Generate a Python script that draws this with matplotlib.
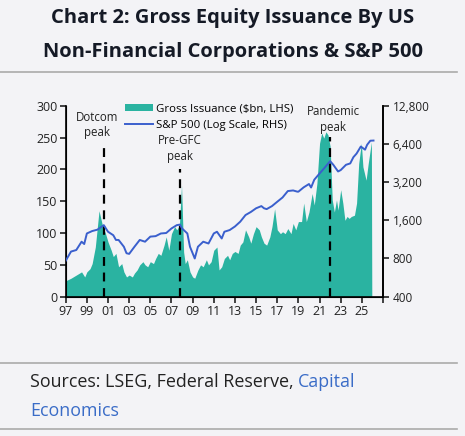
import numpy as np
import matplotlib.pyplot as plt
from matplotlib.lines import Line2D
from matplotlib.patches import Patch

# Gross equity issuance ($bn, LHS)
iss_year = [1997.0, 1997.5, 1998.0, 1998.5, 1998.8, 1999.0, 1999.3, 1999.5, 1999.8, 2000.15,
            2000.5, 2000.75, 2001.0, 2001.3, 2001.5, 2001.75, 2002.0, 2002.3, 2002.5, 2002.75,
            2003.0, 2003.3, 2003.5, 2003.75, 2004.0, 2004.3, 2004.5, 2004.75, 2005.0, 2005.3,
            2005.5, 2005.75, 2006.0, 2006.3, 2006.5, 2006.75, 2007.0, 2007.3, 2007.5, 2007.75,
            2007.95, 2008.15, 2008.3, 2008.5, 2008.75, 2009.0, 2009.2, 2009.5, 2009.75, 2010.0,
            2010.3, 2010.5, 2010.75, 2011.0, 2011.3, 2011.5, 2011.75, 2012.0, 2012.3, 2012.5,
            2012.75, 2013.0, 2013.3, 2013.5, 2013.75, 2014.0, 2014.3, 2014.5, 2014.75, 2015.0,
            2015.3, 2015.5, 2015.75, 2016.0, 2016.3, 2016.5, 2016.75, 2017.0, 2017.3, 2017.5,
            2017.75, 2018.0, 2018.3, 2018.5, 2018.75, 2019.0, 2019.3, 2019.5, 2019.75, 2020.0,
            2020.3, 2020.5, 2020.75, 2021.0, 2021.2, 2021.4, 2021.6, 2021.8, 2022.0, 2022.2,
            2022.4, 2022.6, 2022.75, 2023.0, 2023.2, 2023.4, 2023.6, 2023.8, 2024.0, 2024.3,
            2024.5, 2024.7, 2024.95, 2025.1, 2025.4, 2025.6, 2025.9, 2025.94]
iss_value = [25, 29, 34, 39, 31, 39, 44, 52, 78, 135,
             110, 100, 86, 73, 63, 68, 47, 52, 39, 31,
             34, 31, 37, 42, 50, 55, 50, 47, 55, 52,
             60, 68, 65, 81, 94, 73, 99, 110, 105, 112,
             175, 70, 52, 58, 39, 31, 29, 42, 50, 47,
             58, 50, 55, 73, 78, 42, 47, 60, 65, 58,
             68, 71, 68, 81, 86, 105, 94, 84, 99, 110,
             105, 94, 84, 81, 94, 110, 138, 105, 99, 102,
             99, 107, 99, 115, 105, 118, 118, 147, 118, 133,
             162, 144, 178, 241, 257, 249, 259, 254, 236, 152,
             133, 152, 136, 168, 147, 120, 126, 123, 126, 128,
             147, 209, 241, 204, 183, 209, 243, 0]

# S&P 500 (log scale, RHS)
spx_year = [1997.0, 1997.5, 1998.0, 1998.5, 1998.75, 1999.0, 1999.5, 2000.0, 2000.6, 2001.0,
            2001.5, 2001.75, 2002.0, 2002.5, 2002.75, 2003.0, 2003.5, 2004.0, 2004.5, 2005.0,
            2005.5, 2006.0, 2006.5, 2007.0, 2007.5, 2007.8, 2008.0, 2008.5, 2008.75, 2009.0,
            2009.2, 2009.5, 2010.0, 2010.5, 2011.0, 2011.3, 2011.75, 2012.0, 2012.5, 2013.0,
            2013.5, 2014.0, 2014.5, 2015.0, 2015.5, 2015.75, 2016.0, 2016.5, 2017.0, 2017.5,
            2018.0, 2018.5, 2018.9, 2019.0, 2019.5, 2020.0, 2020.2, 2020.5, 2021.0, 2021.5,
            2022.0, 2022.3, 2022.75, 2023.0, 2023.5, 2023.9, 2024.2, 2024.5, 2024.9, 2025.3,
            2025.5, 2025.8, 2026.1]
spx_value = [768, 907, 933, 1085, 1040, 1260, 1316, 1350, 1465, 1300,
             1220, 1120, 1120, 990, 880, 870, 990, 1120, 1085, 1190,
             1200, 1260, 1270, 1380, 1465, 1480, 1380, 1260, 990, 880,
             800, 990, 1085, 1050, 1260, 1300, 1150, 1300, 1340, 1430,
             1560, 1760, 1860, 1990, 2070, 1990, 1960, 2070, 2240, 2420,
             2720, 2750, 2690, 2690, 2910, 3090, 2900, 3340, 3740, 4170,
             4680, 4380, 3880, 3980, 4380, 4490, 5030, 5370, 6100, 5760,
             6300, 6780, 6800]

# Peak markers: (year, top of dashed line on LHS scale, label)
peak_year = [2000.6, 2007.82, 2022.0]
peak_top = [243, 200, 251]
peak_label = ["Dotcom\npeak", "Pre-GFC\npeak", "Pandemic\npeak"]
peak_label_x = [2000.0, 2007.8, 2022.3]
peak_label_y = [292, 255, 301]

x_ticks = list(range(1997, 2028, 2))
x_labels = [f"{y % 100:02d}" if y < 2027 else "" for y in x_ticks]
lhs_ticks = [0, 50, 100, 150, 200, 250, 300]
rhs_ticks = [400, 800, 1600, 3200, 6400, 12800]

teal = "#2ab3a1"
blue = "#3a5fcd"
bg = "#f3f3f6"

plt.rcParams["font.family"] = ["Open Sans", "DejaVu Sans"]

fig = plt.figure(figsize=(4.65, 4.36), dpi=100, facecolor=bg)
ax = fig.add_axes([0.1413, 0.3195, 0.6824, 0.4381])
ax.set_facecolor("none")

ax.fill_between(iss_year, iss_value, 0, color=teal, lw=0, zorder=1)
ax.vlines(peak_year, 0, peak_top, colors="black", linestyles=(0, (4, 3)), lw=1.6, zorder=3)
for px, py, lab in zip(peak_label_x, peak_label_y, peak_label):
    ax.text(px, py, lab, ha="center", va="top", fontsize=8.3, linespacing=1.25, color="#222222")

ax.set_xlim(1997, 2027)
ax.set_ylim(0, 300)
ax.set_xticks(x_ticks)
ax.set_xticklabels(x_labels)
ax.set_yticks(lhs_ticks)
ax.spines["top"].set_visible(False)
for s in ["left", "bottom", "right"]:
    ax.spines[s].set_linewidth(1.2)
ax.tick_params(direction="out", length=4, width=1.2, labelsize=9, colors="#222222", pad=2)

ax2 = ax.twinx()
ax2.set_yscale("log")
ax2.plot(spx_year, spx_value, color=blue, lw=1.4, zorder=4)
ax2.set_ylim(400, 12800)
ax2.set_yticks(rhs_ticks)
ax2.set_yticklabels([f"{v:,}" for v in rhs_ticks])
ax2.minorticks_off()
ax2.spines["top"].set_visible(False)
ax2.spines["right"].set_linewidth(1.2)
ax2.tick_params(direction="out", length=4, width=1.2, labelsize=8.5, colors="#222222", pad=3)

handles = [Patch(facecolor=teal, edgecolor="none"), Line2D([], [], color=blue, lw=1.4)]
ax.legend(handles, ["Gross Issuance ($bn, LHS)", "S&P 500 (Log Scale, RHS)"],
          loc="upper left", bbox_to_anchor=(0.17, 1.04), frameon=False, fontsize=8.2,
          handlelength=2.4, handleheight=0.5, handletextpad=0.3, labelspacing=0.45,
          borderpad=0)

# Title, rules and source note
fig.text(0.5, 1 - 18 / 436, "Chart 2: Gross Equity Issuance By US", ha="center", va="center",
         fontsize=14.5, fontweight="bold", color="#151a26")
fig.text(0.5, 1 - 52 / 436, "Non-Financial Corporations & S&P 500", ha="center", va="center",
         fontsize=14.5, fontweight="bold", color="#151a26")
for yy in [72, 363, 429]:
    fig.add_artist(Line2D([0, 457 / 465], [1 - yy / 436] * 2, color="#aaaaaa", lw=1.2))
t1 = fig.text(30 / 465, 1 - 382 / 436, "Sources: LSEG, Federal Reserve, ", ha="left", va="center",
              fontsize=12.9, color="#222222")
fig.canvas.draw()
bb = t1.get_window_extent()
fig.text(bb.x1 / fig.bbox.width, 1 - 382 / 436, "Capital", ha="left", va="center",
         fontsize=12.9, color="#3a6cc7")
fig.text(30 / 465, 1 - 411 / 436, "Economics", ha="left", va="center", fontsize=12.9, color="#3a6cc7")

fig.savefig("out.png", dpi=100, facecolor=bg)
